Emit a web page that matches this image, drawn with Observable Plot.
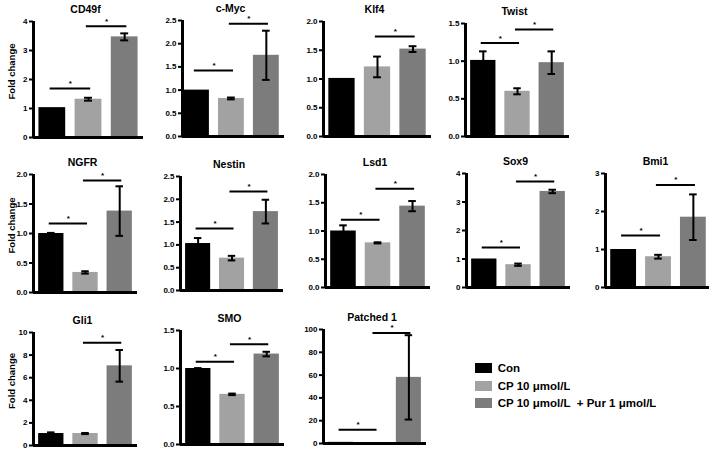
<!DOCTYPE html>
<html><head><meta charset="utf-8">
<script src="https://cdn.jsdelivr.net/npm/d3@7"></script>
<script src="https://cdn.jsdelivr.net/npm/@observablehq/plot@0.6"></script>
<style>
body{margin:0;background:#fff;}
#root{position:relative;width:709px;height:449px;overflow:hidden;font-family:"Liberation Sans",Arial,sans-serif;background:#fff;}
.pnl{position:absolute;}
#legend{position:absolute;left:475px;top:360px;}
#legend *{font-family:"Liberation Sans",Arial,sans-serif !important;font-weight:bold !important;font-size:11.5px !important;color:#000 !important;}
#legend div{line-height:16.5px;}
</style></head><body><div id="root"><div id="legend"></div></div>
<script>
// ---- data ----
const groups = ["Con", "CP 10 μmol/L", "CP 10 μmol/L\u00a0 + Pur 1 μmol/L"];
const genes = ["CD49f","c-Myc","Klf4","Twist","NGFR","Nestin","Lsd1","Sox9","Bmi1","Gli1","SMO","Patched 1"];

const meanCD49f = [1.03, 1.32, 3.47];   const errCD49f = [0, 0.05, 0.12];
const meanCMyc  = [1.0, 0.82, 1.75];    const errCMyc  = [0, 0.02, 0.53];
const meanKlf4  = [1.01, 1.21, 1.52];   const errKlf4  = [0, 0.18, 0.05];
const meanTwist = [1.01, 0.60, 0.98];   const errTwist = [0.12, 0.04, 0.15];
const meanNGFR  = [1.0, 0.34, 1.38];    const errNGFR  = [0.01, 0.02, 0.42];
const meanNestin= [1.03, 0.71, 1.73];   const errNestin= [0.12, 0.05, 0.26];
const meanLsd1  = [1.0, 0.79, 1.44];    const errLsd1  = [0.1, 0.01, 0.09];
const meanSox9  = [1.0, 0.80, 3.37];    const errSox9  = [0, 0.04, 0.06];
const meanBmi1  = [1.0, 0.81, 1.85];    const errBmi1  = [0, 0.05, 0.6];
const meanGli1  = [1.06, 1.06, 7.05];   const errGli1  = [0.1, 0.05, 1.4];
const meanSMO   = [1.0, 0.66, 1.19];    const errSMO   = [0.005, 0.01, 0.03];
const meanPtch1 = [1.0, 0.5, 58];       const errPtch1 = [0, 0, 37];

// significance bars: [from group, to group, height]
const sigCD49f = [[0,1,1.69],[1,2,3.84]];
const sigCMyc  = [[0,1,1.42],[1,2,2.43]];
const sigKlf4  = [[1,2,1.74]];
const sigTwist = [[0,1,1.24],[1,2,1.42]];
const sigNGFR  = [[0,1,1.17],[1,2,1.9]];
const sigNestin= [[0,1,1.36],[1,2,2.17]];
const sigLsd1  = [[0,1,1.2],[1,2,1.75]];
const sigSox9  = [[0,1,1.4],[1,2,3.72]];
const sigBmi1  = [[0,1,1.37],[1,2,2.7]];
const sigGli1  = [[1,2,9.1]];
const sigSMO   = [[0,1,1.09],[1,2,1.32]];
const sigPtch1 = [[0,1,12],[1,2,97]];

const yMax  = [4, 2.5, 2, 1.5, 2, 2.5, 2, 4, 3, 10, 1.5, 100];
const yStep = [1, 0.5, 0.5, 0.5, 0.5, 0.5, 0.5, 1, 1, 2, 0.5, 20];
const yLabel = "Fold change";

const means = [meanCD49f,meanCMyc,meanKlf4,meanTwist,meanNGFR,meanNestin,meanLsd1,meanSox9,meanBmi1,meanGli1,meanSMO,meanPtch1];
const errs  = [errCD49f,errCMyc,errKlf4,errTwist,errNGFR,errNestin,errLsd1,errSox9,errBmi1,errGli1,errSMO,errPtch1];
const sigs  = [sigCD49f,sigCMyc,sigKlf4,sigTwist,sigNGFR,sigNestin,sigLsd1,sigSox9,sigBmi1,sigGli1,sigSMO,sigPtch1];

// ---- layout (pixel frame of each panel's axes) ----
const layout = [
  {x0:33, x1:143, yT:21, yB:137, lab:true},
  {x0:182, x1:284, yT:20, yB:136, xlo:-0.4},
  {x0:323, x1:431, yT:21, yB:136},
  {x0:465, x1:569, yT:23, yB:136},
  {x0:33, x1:137, yT:174, yB:292, lab:true},
  {x0:180, x1:283, yT:176, yB:290},
  {x0:325, x1:430, yT:174, yB:287},
  {x0:466, x1:570, yT:173, yB:287},
  {x0:605, x1:711, yT:173, yB:287},
  {x0:33, x1:137, yT:332, yB:445, lab:true},
  {x0:180, x1:284, yT:330, yB:444},
  {x0:323, x1:426, yT:329, yB:443},
];
const colors = ["#000000", "#a2a2a2", "#7c7c7c"];
const font = "Liberation Sans, Arial, sans-serif";

const root = document.getElementById("root");
genes.forEach((gene, k) => {
  const L = layout[k];
  const mL = L.lab ? L.x0 : 28, mR = 4, mT = 22, mB = 4;
  const W = L.x1 - L.x0 + mL + mR;
  const H = L.yB - L.yT + mT + mB;
  const xlo = L.xlo ?? -0.52, xhi = 2.52;
  const data = means[k].map((v, i) => ({i, g: groups[i], v, e: errs[k][i]}));
  const ed = data.filter(d => d.e > 0.004);
  const sd = sigs[k].map(([a, b, y]) => ({a, b, y}));
  const ticks = d3.range(0, yMax[k] + 1e-9, yStep[k]);
  const fmt = yStep[k] < 1 ? d3.format(".1f") : d3.format("d");
  const capW = 0.11;
  const marks = [
    Plot.rectY(data, {x1: d => d.i - 0.37, x2: d => d.i + 0.37, y1: 0, y2: "v", fill: "g"}),
    Plot.ruleX(ed, {x: "i", y1: d => d.v - d.e, y2: d => d.v + d.e, stroke: "#000", strokeWidth: 2}),
    Plot.ruleY(ed, {x1: d => d.i - capW, x2: d => d.i + capW, y: d => d.v + d.e, stroke: "#000", strokeWidth: 2}),
    Plot.ruleY(ed, {x1: d => d.i - capW, x2: d => d.i + capW, y: d => d.v - d.e, stroke: "#000", strokeWidth: 2}),
    Plot.ruleY(sd, {x1: d => d.a - 0.06, x2: d => d.b + 0.06, y: "y", stroke: "#000", strokeWidth: 2}),
    Plot.text(sd, {x: d => (d.a + d.b) / 2, y: "y", text: () => "*", dy: -5, fontSize: 8, fontWeight: "bold", fill: "#000"}),
    Plot.axisY({ticks, tickFormat: fmt, tickSize: 4, tickPadding: 2, fontSize: 8, fontWeight: "bold", strokeWidth: 2, label: null}),
    Plot.ruleX([xlo], {y1: 0, y2: yMax[k], stroke: "#000", strokeWidth: 3}),
    Plot.ruleY([0], {x1: xlo, x2: xhi, stroke: "#000", strokeWidth: 3}),
    Plot.text([gene], {frameAnchor: "top", textAnchor: "middle", lineAnchor: "middle", dy: -12, dx: -3, fontSize: 10.5, fontWeight: "bold", fill: "#000"}),
  ];
  if (L.lab) marks.push(Plot.text([yLabel], {frameAnchor: "left", textAnchor: "middle", lineAnchor: "middle", rotate: -90, dx: -22, dy: -8, fontSize: 9.5, fontWeight: "bold", fill: "#000"}));
  const svg = Plot.plot({
    width: W, height: H, marginLeft: mL, marginRight: mR, marginTop: mT, marginBottom: mB,
    style: {fontFamily: font, background: "transparent", overflow: "visible", color: "#000"},
    x: {type: "linear", domain: [xlo, xhi], axis: null},
    y: {domain: [0, yMax[k]], axis: null},
    color: {domain: groups, range: colors},
    marks
  });
  svg.classList.add("pnl");
  svg.style.left = (L.x0 - mL) + "px";
  svg.style.top = (L.yT - mT) + "px";
  root.appendChild(svg);
});

const leg = Plot.legend({color: {domain: groups, range: colors}, columns: 1, swatchWidth: 17, swatchHeight: 10});
document.getElementById("legend").appendChild(leg);
</script>
</body></html>
